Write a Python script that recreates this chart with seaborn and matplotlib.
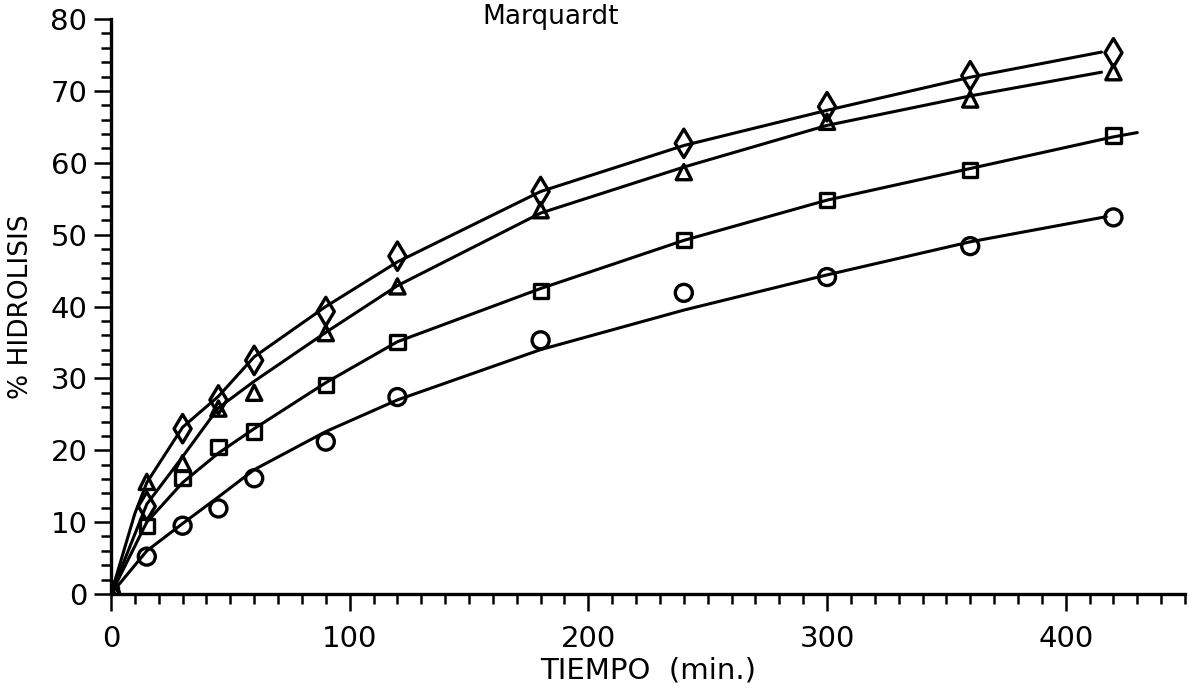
import matplotlib
matplotlib.use("Agg")
import matplotlib.pyplot as plt
import seaborn as sns
import numpy as np
import pandas as pd
from matplotlib.ticker import MultipleLocator

# measured points (tiempo en min, % hidrolisis)
tiempo = [0, 15, 30, 45, 60, 90, 120, 180, 240, 300, 360, 420]
rombo = [0, 12.2, 23.0, 27.0, 32.5, 39.3, 47.0, 56.0, 62.7, 67.8, 72.1, 75.3]
triangulo = [0, 15.6, 18.2, 25.8, 28.0, 36.3, 42.8, 53.4, 58.7, 65.7, 68.8, 72.6]
cuadrado = [0, 9.5, 16.1, 20.5, 22.6, 29.1, 35.1, 42.2, 49.2, 54.8, 59.0, 63.8]
circulo = [0, 5.2, 9.5, 11.9, 16.1, 21.2, 27.4, 35.3, 41.9, 44.1, 48.4, 52.4]

# fitted curves (Marquardt)
t_rombo = [0, 10, 15, 30, 45, 60, 90, 120, 180, 240, 300, 360, 415]
fit_rombo = [0, 11.2, 15.5, 23.2, 27.5, 33.0, 40.0, 46.2, 56.0, 62.4, 67.3, 71.9, 75.4]
t_triang = [0, 15, 30, 45, 60, 90, 120, 180, 240, 300, 360, 415]
fit_triang = [0, 12.5, 19.1, 25.9, 29.6, 36.4, 42.9, 53.0, 59.4, 65.2, 69.3, 72.6]
t_cuad = [0, 15, 30, 45, 60, 90, 120, 180, 240, 300, 360, 420, 430]
fit_cuad = [0, 10.0, 15.5, 19.6, 23.0, 29.4, 35.1, 42.5, 49.2, 54.8, 59.2, 63.6, 64.2]
t_circ = [0, 15, 30, 45, 60, 90, 120, 180, 240, 300, 360, 417]
fit_circ = [0, 6.0, 9.8, 13.5, 17.3, 22.6, 27.0, 34.0, 39.5, 44.4, 49.0, 52.5]

sns.set_style("ticks")
plt.rcParams['font.family'] = ['DejaVu Sans']
plt.rcParams['text.color'] = 'black'
plt.rcParams['axes.labelcolor'] = 'black'
plt.rcParams['xtick.color'] = 'black'
plt.rcParams['ytick.color'] = 'black'

fig = plt.figure(figsize=(11.91, 6.94), dpi=100)
ax = fig.add_axes([0.0932, 0.1441, 0.9018, 0.8285])

curvas = [(t_rombo, fit_rombo), (t_triang, fit_triang), (t_cuad, fit_cuad), (t_circ, fit_circ)]
for tt, yy in curvas:
    sns.lineplot(x=tt, y=yy, ax=ax, color='black', linewidth=2.2, sort=False)

puntos = [(rombo, 'd', 210), (triangulo, '^', 120), (cuadrado, 's', 105), (circulo, 'o', 150)]
for yy, mk, sz in puntos:
    sns.scatterplot(x=tiempo, y=yy, ax=ax, marker=mk, s=sz, facecolor='none',
                    edgecolor='black', linewidth=2.4, zorder=3)

ax.set_xlim(0, 450)
ax.set_ylim(0, 80)
ax.xaxis.set_major_locator(MultipleLocator(100))
ax.xaxis.set_minor_locator(MultipleLocator(10))
ax.yaxis.set_major_locator(MultipleLocator(10))
ax.yaxis.set_minor_locator(MultipleLocator(2))
ax.tick_params(which='major', direction='out', length=12, width=1.8, labelsize=21)
ax.tick_params(which='minor', direction='out', length=7, width=1.8)
ax.tick_params(axis='x', which='major', pad=10)
ax.tick_params(axis='y', which='major', pad=5)

sns.despine(ax=ax)
for s in ['left', 'bottom']:
    ax.spines[s].set_linewidth(2.4)
    ax.spines[s].set_color('black')

ax.set_xlabel('TIEMPO  (min.)', fontsize=21)
ax.set_ylabel('% HIDROLISIS', fontsize=19)
ax.xaxis.set_label_coords(0.5, -0.108)
ax.yaxis.set_label_coords(-0.072, 0.5)

fig.text(0.462, 0.975, 'Marquardt', fontsize=19, ha='center', va='center')

fig.savefig('out.png', dpi=100)
